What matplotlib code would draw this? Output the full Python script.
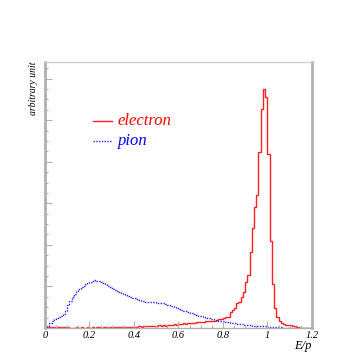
import numpy as np
import matplotlib.pyplot as plt
from matplotlib.ticker import MultipleLocator, NullFormatter

# E/p histograms, 120 bins of 0.01 from 0 to 1.2 (arbitrary units)
electron = [2, 3, 2, 3, 3, 2, 3, 3, 2, 3,
            3, 1, 1, 1, 2, 1, 2, 1, 1, 2,
            1, 2, 1, 2, 2, 1, 2, 2, 1, 2,
            2, 2, 3, 2, 2, 3, 2, 3, 3, 3,
            3, 3, 4, 3, 4, 4, 5, 4, 5, 5,
            6, 7, 6, 7, 6, 8, 7, 8, 9, 8,
            9, 10, 11, 10, 12, 11, 13, 12, 14, 15,
            14, 15, 16, 16, 17, 17, 18, 19, 21, 21,
            25, 27, 27, 39, 43, 48, 60, 63, 74, 87,
            111, 127, 183, 240, 290, 320, 424, 528, 576, 555,
            418, 210, 107, 47, 27, 17, 12, 9, 8, 7,
            7, 6, 4, 2, 1, 1, 1, 0, 0, 0]
pion = [1, 5, 11, 17, 21, 24, 26, 29, 34, 42,
        55, 65, 75, 82, 88, 93, 98, 102, 105, 108,
        110, 113, 115, 114, 112, 110, 108, 105, 102, 99,
        95, 92, 89, 87, 85, 82, 79, 76, 74, 72,
        71, 69, 67, 66, 64, 63, 63, 62, 63, 62,
        61, 60, 60, 59, 58, 56, 54, 52, 50, 48,
        46, 44, 42, 41, 39, 37, 35, 33, 31, 29,
        28, 26, 25, 23, 22, 21, 20, 19, 18, 17,
        16, 15, 14, 13, 12, 11, 10, 10, 9, 8,
        8, 7, 7, 6, 6, 5, 5, 4, 4, 4,
        3, 3, 3, 2, 2, 2, 2, 1, 1, 1,
        1, 1, 1, 1, 0, 1, 0, 0, 0, 0]
edges = np.linspace(0, 1.2, len(electron) + 1)
xticks = [0, 0.2, 0.4, 0.6, 0.8, 1.0, 1.2]
xticklabels = ['0', '0.2', '0.4', '0.6', '0.8', '1', '1.2']

serif = ['Liberation Serif', 'DejaVu Serif']

fig = plt.figure(figsize=(3.54, 3.54), dpi=100)
ax = fig.add_axes([0.127, 0.0734, 0.754, 0.7516])

ax.stairs(electron, edges, color='#ff2020', lw=1.0)
ax.stairs(pion, edges, color='#2020ff', lw=1.0, ls=(0, (1, 1)))

ax.set_xlim(0, 1.2)
ax.set_ylim(0, 640)

gray = '#b0b0b0'
for side in ['left', 'right']:
    ax.spines[side].set_color(gray)
    ax.spines[side].set_linewidth(2.0)
ax.spines['top'].set_color('#d0d0d0')
ax.spines['top'].set_linewidth(1.0)
ax.spines['bottom'].set_color(gray)
ax.spines['bottom'].set_linewidth(1.0)

ax.set_xticks(xticks)
ax.set_xticklabels(xticklabels, family=serif, style='italic', fontsize=7.5)
ax.xaxis.set_minor_locator(MultipleLocator(0.05))
ax.yaxis.set_major_locator(MultipleLocator(100))
ax.yaxis.set_minor_locator(MultipleLocator(25))
ax.yaxis.set_major_formatter(NullFormatter())
ax.tick_params(axis='both', which='both', direction='in', color=gray, width=0.8)
ax.tick_params(axis='both', which='major', length=5)
ax.tick_params(axis='both', which='minor', length=2.5)
ax.tick_params(axis='x', pad=2)
ax.tick_params(axis='y', left=True, right=False)

ax.set_ylabel('arbitrary unit', family=serif, style='italic', fontsize=7)
ax.yaxis.set_label_coords(-0.025, 1.0)
ax.yaxis.label.set_horizontalalignment('right')
ax.set_xlabel('E/p', family=serif, style='italic', fontsize=9)
ax.xaxis.set_label_coords(1.0, -0.045)
ax.xaxis.label.set_horizontalalignment('right')
ax.xaxis.label.set_verticalalignment('top')

# legend drawn by hand, ROOT style
ax.plot([0.215, 0.30], [497, 497], color='#ff2020', lw=1.0)
ax.plot([0.215, 0.30], [449, 449], color='#2020ff', lw=1.0, ls=(0, (1, 1)))
ax.text(0.328, 497, 'electron', color='#ff0000', family=serif, style='italic',
        fontsize=12, va='center')
ax.text(0.328, 449, 'pion', color='#0000ff', family=serif, style='italic',
        fontsize=12, va='center')

fig.savefig('out.png', dpi=100)
